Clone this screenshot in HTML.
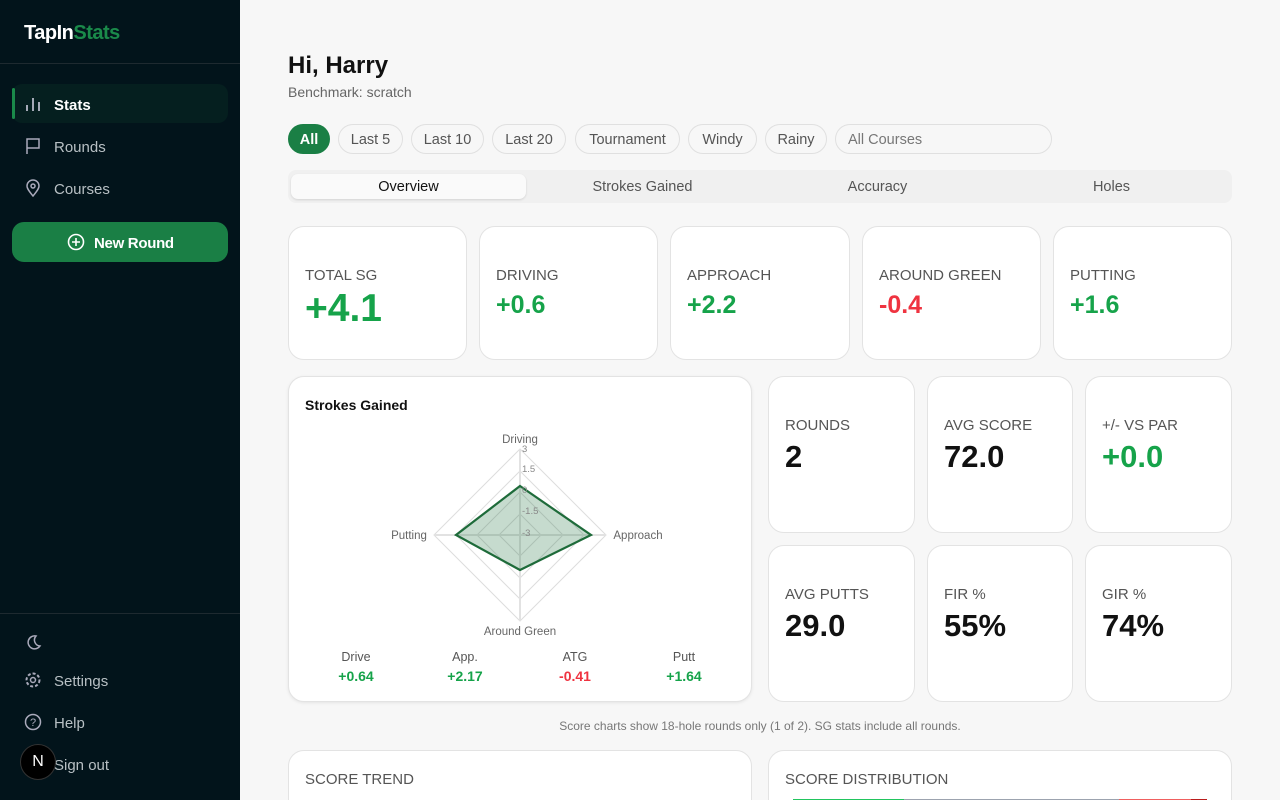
<!DOCTYPE html>
<html><head><meta charset="utf-8"><style>
*{box-sizing:border-box;margin:0;padding:0}
html,body{width:1280px;height:800px;overflow:hidden}
body{background:#f7f7f7;font-family:"Liberation Sans",sans-serif;position:relative}
.a{position:absolute}
.sb{left:0;top:0;width:240px;height:800px;background:#02141b}
.nav{color:#b8c0c4;font-size:15px}
.card{position:absolute;background:#fff;border:1px solid #e3e3e3;border-radius:16px}
.lbl{position:absolute;left:16px;font-size:15px;color:#555}
.pill{position:absolute;top:124px;height:30px;border:1px solid #e0e0e0;border-radius:15px;font-size:14.5px;color:#555;line-height:30px;text-align:center}
.tab{position:absolute;top:174px;height:25px;width:235px;line-height:27px;text-align:center;font-size:14.5px;color:#555}
.g{color:#16a34a}.r{color:#ef3340}
</style></head><body>
<div class="a sb"></div>
<div class="a" style="left:24px;top:22px;font-size:20px;font-weight:bold;color:#fff;letter-spacing:-0.5px">TapIn<span style="color:#1a8a4a">Stats</span></div>
<div class="a" style="left:0;top:63px;width:240px;height:1px;background:#1e2a30"></div>
<div class="a" style="left:12px;top:84px;width:216px;height:39px;background:#051f1f;border-radius:10px"></div>
<div class="a" style="left:12px;top:88px;width:3px;height:31px;background:#1a8a4a;border-radius:2px"></div>
<svg class="a" style="left:24px;top:95px" width="18" height="18"><path d="M3 16V10M9 16V3M15 16V7" stroke="#ccd" stroke-width="1.6" fill="none"/></svg>
<div class="a" style="left:54px;top:97px;color:#fff;font-weight:bold;font-size:15px">Stats</div>
<svg class="a" style="left:24px;top:137px" width="18" height="18"><path d="M3 17V2h12v9H3" stroke="#aab" stroke-width="1.5" fill="none"/></svg>
<div class="a nav" style="left:54px;top:139px">Rounds</div>
<svg class="a" style="left:24px;top:179px" width="18" height="18"><path d="M9 17C4 11 3 9 3 7a6 6 0 0 1 12 0c0 2-1 4-6 10z" stroke="#aab" stroke-width="1.5" fill="none"/><circle cx="9" cy="7" r="2" stroke="#aab" stroke-width="1.5" fill="none"/></svg>
<div class="a nav" style="left:54px;top:181px">Courses</div>
<div class="a" style="left:12px;top:222px;width:216px;height:40px;background:#1a7f45;border-radius:12px"></div>
<svg class="a" style="left:67px;top:233px" width="18" height="18"><circle cx="9" cy="9" r="7.5" stroke="#fff" stroke-width="1.6" fill="none"/><path d="M9 5v8M5 9h8" stroke="#fff" stroke-width="1.6"/></svg>
<div class="a" style="left:94px;top:235px;color:#fff;font-weight:bold;font-size:15px;letter-spacing:-0.3px">New Round</div>
<div class="a" style="left:0;top:613px;width:240px;height:1px;background:#1e2a30"></div>
<svg class="a" style="left:24px;top:633px" width="18" height="18"><path d="M12 3a6.5 6.5 0 1 0 4 10A6 6 0 0 1 12 3z" stroke="#aab" stroke-width="1.5" fill="none"/></svg>
<svg class="a" style="left:24px;top:671px" width="18" height="18"><circle cx="9" cy="9" r="6.5" stroke="#aab" stroke-width="2" fill="none" stroke-dasharray="3 2"/><circle cx="9" cy="9" r="2.5" stroke="#aab" stroke-width="1.5" fill="none"/></svg>
<div class="a nav" style="left:54px;top:673px">Settings</div>
<svg class="a" style="left:24px;top:713px" width="18" height="18"><circle cx="9" cy="9" r="7.5" stroke="#aab" stroke-width="1.5" fill="none"/><text x="9" y="13" font-size="11" fill="#aab" text-anchor="middle" font-family="Liberation Sans">?</text></svg>
<div class="a nav" style="left:54px;top:715px">Help</div>
<div class="a nav" style="left:54px;top:757px">Sign out</div>
<div class="a" style="left:20px;top:744px;width:36px;height:36px;border-radius:50%;background:#000;border:1px solid #333;color:#fff;text-align:center;line-height:34px;font-size:16px">N</div>

<div class="a" style="left:288px;top:52px;font-size:24px;font-weight:bold;color:#111">Hi, Harry</div>
<div class="a" style="left:288px;top:84px;font-size:14px;color:#666">Benchmark: scratch</div>

<div class="pill" style="left:288px;width:42px;background:#1a7f45;border-color:#1a7f45;color:#fff;font-weight:bold">All</div>
<div class="pill" style="left:338px;width:65px">Last 5</div>
<div class="pill" style="left:411px;width:73px">Last 10</div>
<div class="pill" style="left:492px;width:74px">Last 20</div>
<div class="pill" style="left:575px;width:105px">Tournament</div>
<div class="pill" style="left:688px;width:69px">Windy</div>
<div class="pill" style="left:765px;width:62px">Rainy</div>
<div class="pill" style="left:835px;width:217px;text-align:left;padding-left:12px;color:#777">All Courses</div>

<div class="a" style="left:288px;top:170px;width:944px;height:33px;background:#f0f0f0;border-radius:8px"></div>
<div class="tab" style="left:291px;background:#fafafa;border-radius:7px;box-shadow:0 1px 2px rgba(0,0,0,.12);color:#111">Overview</div>
<div class="tab" style="left:525px">Strokes Gained</div>
<div class="tab" style="left:760px">Accuracy</div>
<div class="tab" style="left:994px">Holes</div>

<div class="card" style="left:288px;top:226px;width:179px;height:134px"><div class="lbl" style="top:40px">TOTAL SG</div><div class="a g" style="left:16px;top:60px;font-size:39px;font-weight:bold">+4.1</div></div>
<div class="card" style="left:479px;top:226px;width:179px;height:134px"><div class="lbl" style="top:40px">DRIVING</div><div class="a g" style="left:16px;top:64px;font-size:25px;font-weight:bold">+0.6</div></div>
<div class="card" style="left:670px;top:226px;width:180px;height:134px"><div class="lbl" style="top:40px">APPROACH</div><div class="a g" style="left:16px;top:64px;font-size:25px;font-weight:bold">+2.2</div></div>
<div class="card" style="left:862px;top:226px;width:179px;height:134px"><div class="lbl" style="top:40px">AROUND GREEN</div><div class="a r" style="left:16px;top:64px;font-size:25px;font-weight:bold">-0.4</div></div>
<div class="card" style="left:1053px;top:226px;width:179px;height:134px"><div class="lbl" style="top:40px">PUTTING</div><div class="a g" style="left:16px;top:64px;font-size:25px;font-weight:bold">+1.6</div></div>

<div class="card" style="left:288px;top:376px;width:464px;height:326px;box-shadow:0 1px 3px rgba(0,0,0,.08)">
<div class="a" style="left:16px;top:20px;font-size:14px;font-weight:bold;color:#111">Strokes Gained</div>
</div>
<svg class="a" style="left:288px;top:376px" width="464" height="326" font-family="Liberation Sans">
<g transform="translate(232,159)" fill="none" stroke="#ddd" stroke-width="1">
<polygon points="0,-86 86,0 0,86 -86,0"/><polygon points="0,-64 64,0 0,64 -64,0"/><polygon points="0,-43 43,0 0,43 -43,0"/><polygon points="0,-21 21,0 0,21 -21,0"/>
<path d="M0 -86V86M-86 0H86" stroke="#e2e2e2" stroke-width="2"/>
<polygon points="0,-49 71,0 0,35 -64,0" fill="rgba(26,110,60,0.25)" stroke="#1e6b3a" stroke-width="2.2"/>
</g>
<g font-size="11.5" fill="#666" text-anchor="middle">
<text x="232" y="67">Driving</text><text x="232" y="259">Around Green</text>
<text x="350" y="163">Approach</text><text x="121" y="163">Putting</text>
</g>
<g font-size="9.5" fill="#888"><text x="234" y="76">3</text><text x="234" y="96">1.5</text><text x="234" y="117">0</text><text x="234" y="138">-1.5</text><text x="234" y="160">-3</text></g>
<g font-size="12.5" fill="#555" text-anchor="middle"><text x="68" y="285">Drive</text><text x="177" y="285">App.</text><text x="287" y="285">ATG</text><text x="396" y="285">Putt</text></g>
<g font-size="14" font-weight="bold" text-anchor="middle"><text x="68" y="305" fill="#16a34a">+0.64</text><text x="177" y="305" fill="#16a34a">+2.17</text><text x="287" y="305" fill="#ef3340">-0.41</text><text x="396" y="305" fill="#16a34a">+1.64</text></g>
</svg>

<div class="card" style="left:768px;top:376px;width:147px;height:157px"><div class="lbl" style="top:40px">ROUNDS</div><div class="a" style="left:16px;top:62px;font-size:31px;font-weight:bold;color:#111">2</div></div>
<div class="card" style="left:927px;top:376px;width:146px;height:157px"><div class="lbl" style="top:40px">AVG SCORE</div><div class="a" style="left:16px;top:62px;font-size:31px;font-weight:bold;color:#111">72.0</div></div>
<div class="card" style="left:1085px;top:376px;width:147px;height:157px"><div class="lbl" style="top:40px">+/- VS PAR</div><div class="a g" style="left:16px;top:62px;font-size:31px;font-weight:bold">+0.0</div></div>
<div class="card" style="left:768px;top:545px;width:147px;height:157px"><div class="lbl" style="top:40px">AVG PUTTS</div><div class="a" style="left:16px;top:62px;font-size:31px;font-weight:bold;color:#111">29.0</div></div>
<div class="card" style="left:927px;top:545px;width:146px;height:157px"><div class="lbl" style="top:40px">FIR %</div><div class="a" style="left:16px;top:62px;font-size:31px;font-weight:bold;color:#111">55%</div></div>
<div class="card" style="left:1085px;top:545px;width:147px;height:157px"><div class="lbl" style="top:40px">GIR %</div><div class="a" style="left:16px;top:62px;font-size:31px;font-weight:bold;color:#111">74%</div></div>

<div class="a" style="left:288px;width:944px;top:719px;text-align:center;font-size:12px;color:#777">Score charts show 18-hole rounds only (1 of 2). SG stats include all rounds.</div>

<div class="card" style="left:288px;top:750px;width:464px;height:70px"><div class="lbl" style="top:20px">SCORE TREND</div></div>
<div class="card" style="left:768px;top:750px;width:464px;height:70px"><div class="lbl" style="top:20px">SCORE DISTRIBUTION</div>
<div class="a" style="left:24px;top:48px;width:111px;height:4px;background:#22c55e"></div>
<div class="a" style="left:135px;top:48px;width:215px;height:4px;background:#9ca3af"></div>
<div class="a" style="left:350px;top:48px;width:72px;height:4px;background:#f06060"></div>
<div class="a" style="left:422px;top:48px;width:16px;height:4px;background:#b91c1c"></div>
</div>
</body></html>
